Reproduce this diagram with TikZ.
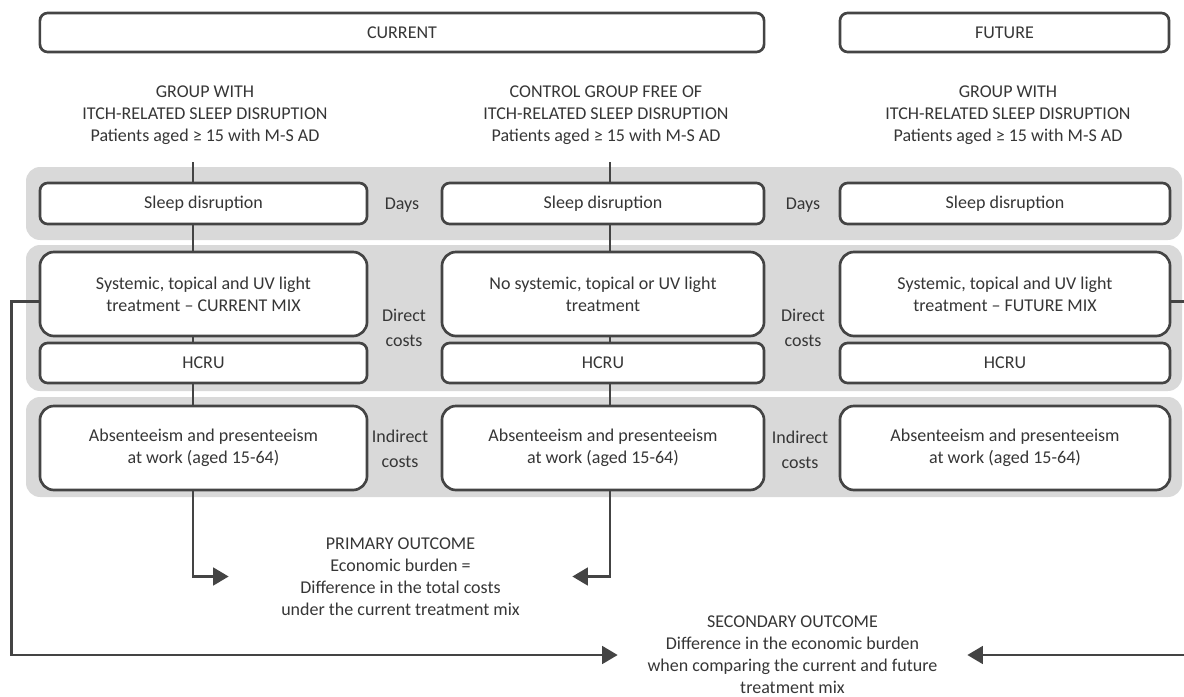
\documentclass[tikz,border=0pt]{standalone}
\usepackage{fontspec}
\setmainfont{Carlito}
\usepackage{tikz}
\usetikzlibrary{positioning, arrows.meta, calc}
\usepackage{xcolor}
\definecolor{inkgray}{HTML}{363636}
\definecolor{linegray}{HTML}{444444}
\definecolor{bandgray}{HTML}{D9D9D9}
\tikzset{
  box/.style={draw=linegray, line width=1.9pt, fill=white, rounded corners=5.5pt,
    align=center, inner sep=2pt, text=inkgray},
  tallbox/.style={box, rounded corners=10pt},
  band/.style={fill=bandgray, rounded corners=10pt},
  lbl/.style={align=center, text=inkgray, inner sep=0pt},
  flow/.style={draw=linegray, line width=1.9pt},
  tip/.style={flow, -{Triangle[length=11pt,width=12.5pt]}},
  colA/.style={minimum width=8.175cm},
  colB/.style={minimum width=8.05cm},
  colC/.style={minimum width=8.25cm},
  sleeprow/.style={minimum height=1.025cm},
  treatrow/.style={minimum height=2.1cm},
  hcrurow/.style={minimum height=1.0cm},
  absrow/.style={minimum height=2.1cm}
}

\begin{document}
\begin{tikzpicture}[x=0.025cm, y=-0.025cm, font=\fontsize{12.8}{15.6}\selectfont]
	\clip (0,0) rectangle (1184,697);
	
	% grey bands
	\fill[band] (26,167) rectangle (1182,240);
	\fill[band] (26,245) rectangle (1182,391);
	\fill[band] (26,397) rectangle (1182,497);
	
	\node[box, minimum width=18.1cm, minimum height=0.975cm] (cur) at (402,32.5) {CURRENT};
	\node[box, minimum width=8.225cm, minimum height=0.975cm] (fut) at (1004.5,32.5) {FUTURE};
	
	\node[lbl] (hdA) at (205,115) {GROUP WITH\\ITCH-RELATED SLEEP DISRUPTION\\Patients aged ≥ 15 with M-S AD};
	\node[lbl] (hdB) at (606,115) {CONTROL GROUP FREE OF\\ITCH-RELATED SLEEP DISRUPTION\\Patients aged ≥ 15 with M-S AD};
	\node[lbl] (hdC) at (1008,115) {GROUP WITH\\ITCH-RELATED SLEEP DISRUPTION\\Patients aged ≥ 15 with M-S AD};
	
	\node[box, colA, sleeprow] (sleepA) at (203.5,203.5) {Sleep disruption};
	\node[box, colB, sleeprow] (sleepB) at (603,203.5) {Sleep disruption};
	\node[box, colC, sleeprow] (sleepC) at (1005,203.5) {Sleep disruption};
	
	\node[tallbox, colA, treatrow] (treatA) at (203.5,294) {Systemic, topical and UV light\\treatment – CURRENT MIX};
	\node[tallbox, colB, treatrow] (treatB) at (603,294) {No systemic, topical or UV light\\treatment};
	\node[tallbox, colC, treatrow] (treatC) at (1005,294) {Systemic, topical and UV light\\treatment – FUTURE MIX};
	
	\node[box, colA, hcrurow] (hcruA) at (203.5,363) {HCRU};
	\node[box, colB, hcrurow] (hcruB) at (603,363) {HCRU};
	\node[box, colC, hcrurow] (hcruC) at (1005,363) {HCRU};
	
	\node[tallbox, colA, absrow] (absA) at (203.5,448) {Absenteeism and presenteeism\\at work (aged 15-64)};
	\node[tallbox, colB, absrow] (absB) at (603,448) {Absenteeism and presenteeism\\at work (aged 15-64)};
	\node[tallbox, colC, absrow] (absC) at (1005,448) {Absenteeism and presenteeism\\at work (aged 15-64)};
	
	\node[lbl] (daysA) at (402,205) {Days};
	\node[lbl] (daysB) at (803,205) {Days};
	\node[lbl] (dirA) at (404,327.5) {Direct\\[2pt]costs};
	\node[lbl] (dirB) at (803,328) {Direct\\[2pt]costs};
	\node[lbl] (indA) at (400,448.5) {Indirect\\[2pt]costs};
	\node[lbl] (indB) at (800,450) {Indirect\\[2pt]costs};
	
	\node[lbl, minimum width=8.575cm] (prim) at (400.5,576.5) {PRIMARY OUTCOME\\Economic burden =\\Difference in the total costs\\under the current treatment mix};
	\node[lbl, minimum width=8.725cm] (sec) at (792.5,655) {SECONDARY OUTCOME\\Difference in the economic burden\\when comparing the current and future\\treatment mix};
	
	\coordinate (tA) at (193,162);
	\coordinate (tB) at (610,162);
	
	% column lines
	\draw[flow]
	(tA) -- (tA |- sleepA.north)
	(tA |- sleepA.south) -- (tA |- treatA.north)
	(tA |- treatA.south) -- (tA |- hcruA.north)
	(tA |- hcruA.south) -- (tA |- absA.north);
	\draw[flow]
	(tB) -- (tB |- sleepB.north)
	(tB |- sleepB.south) -- (tB |- treatB.north)
	(tB |- treatB.south) -- (tB |- hcruB.north)
	(tB |- hcruB.south) -- (tB |- absB.north);
	
	% outcomes
	\draw[tip] (tA |- absA.south) |- (prim.west);
	\draw[tip] (tB |- absB.south) |- (prim.east);
	\draw[tip] ([yshift=-5.5pt]treatA.west) -- ++(-27,0) |- (sec.west);
	\draw[tip] ([yshift=-5.5pt]treatC.east) -- ++(22,0) |- (sec.east);
\end{tikzpicture}
\end{document}
